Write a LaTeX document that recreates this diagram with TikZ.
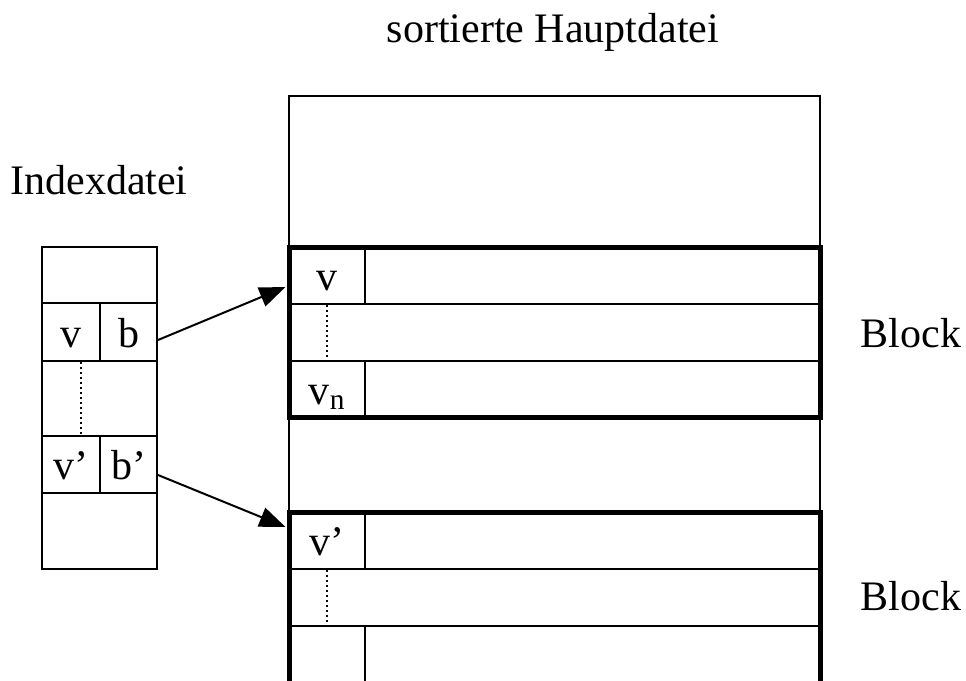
\documentclass[tikz,border=0pt]{standalone}
\usepackage{fontspec}
\setmainfont{Liberation Serif}
\usetikzlibrary{arrows.meta}
\begin{document}
\begin{tikzpicture}[x=1pt,y=-1pt,
  thin line/.style={line width=2pt},
  thick line/.style={line width=5pt},
  dotline/.style={line width=2pt, dash pattern=on 2pt off 3pt},
  lbl/.style={font=\fontsize{42}{48}\selectfont, inner sep=0pt, anchor=base},
  cell/.style={draw, line width=2pt, inner sep=0pt, font=\fontsize{42}{48}\selectfont,
    text height=30pt, text depth=0pt},
  conn/.style={line width=2pt, -{Triangle[length=26pt,width=20pt]}}]
\useasboundingbox (0,0) rectangle (966,680);
\begin{scope}
\clip (0,0) rectangle (966,680);
% titles
\node[lbl] (title) at (553,42) {sortierte Hauptdatei};
\node[lbl] (idxtitle) at (99,194) {Indexdatei};
\node[lbl] (blk1) at (911,347) {Block};
\node[lbl] (blk2) at (911,610) {Block};

% index file
\draw[thin line] (42,247) rectangle (157,569);
\draw[thin line] (42,361) -- (157,361);
\draw[thin line] (42,436) -- (157,436);
\node[cell, minimum width=58pt, minimum height=58pt] (iv) at (71,332) {v};
\node[cell, minimum width=57pt, minimum height=58pt] (ib) at (128.5,332) {b};
\node[cell, minimum width=58pt, minimum height=57pt] (iv2) at (71,464.5) {v’};
\node[cell, minimum width=57pt, minimum height=57pt] (ib2) at (128.5,464.5) {b’};
\draw[dotline] (iv.south) ++(10pt,0) -- (81,436);

% main file
\draw[thin line] (289,690) -- (289,96) -- (820,96) -- (820,690);
% block 1
\draw[thin line] (289,304) -- (820,304);
\draw[thin line] (289,361) -- (820,361);
\node[cell, minimum width=76pt, minimum height=57pt] (mv) at (327,275.5) {v};
\node[cell, minimum width=76pt, minimum height=56pt] (mvn) at (327,389) {v\textsubscript{n}};
\draw[dotline] (mv.south) -- (mvn.north);
\draw[thick line] (289,247) rectangle (820,417);
% block 2
\draw[thin line] (289,569) -- (820,569);
\draw[thin line] (289,626) -- (820,626);
\draw[thin line] (365,626) -- (365,690);
\node[cell, minimum width=76pt, minimum height=57pt] (mv2) at (327,540.5) {v’};
\draw[dotline] (mv2.south) -- (327,626);
\draw[thick line] (289,690) -- (289,512) -- (820,512) -- (820,690);

% connectors
\draw[conn] ([yshift=-8pt]ib.east) -- ([xshift=-2.5pt,yshift=-11.5pt]mv.west);
\draw[conn] ([yshift=-10.5pt]ib2.east) -- ([xshift=-2.5pt,yshift=13.5pt]mv2.west);
\end{scope}
\end{tikzpicture}
\end{document}
